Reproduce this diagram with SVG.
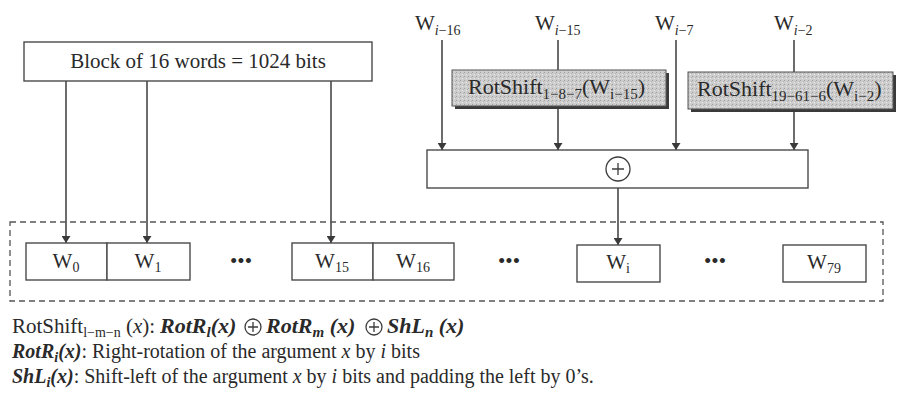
<svg xmlns="http://www.w3.org/2000/svg" width="900" height="408" viewBox="0 0 900 408">
<style>
.t{font-family:"Liberation Serif","Times New Roman",serif;fill:#2a2a2a;font-size:21px}
.lg{font-size:20px}
.sub{font-size:14px}
.bt{font-size:22px}
.bsub{font-size:15px}
.bi{font-weight:bold;font-style:italic}
.it{font-style:italic}
.box{fill:#ffffff;stroke:#4a4a4a;stroke-width:1.4}
.ln{stroke:#3c3c3c;stroke-width:1.5;fill:none}
.arr{stroke:#3c3c3c;stroke-width:1.5;fill:none;marker-end:url(#ah)}
.shade{fill:url(#stip);stroke:#555;stroke-width:1}
.shadow{fill:#3a3a3a}
.dash{fill:none;stroke:#555;stroke-width:1.3;stroke-dasharray:6 4}
.xor{fill:none;stroke:#3c3c3c;stroke-width:1.3}
</style>
<defs>
<marker id="ah" viewBox="0 0 10 10" refX="10" refY="5" markerWidth="7" markerHeight="9" markerUnits="userSpaceOnUse" orient="auto" preserveAspectRatio="none">
<path d="M0,0 L10,5 L0,10 z" fill="#3a3a3a"/>
</marker>
<pattern id="stip" width="4" height="4" patternUnits="userSpaceOnUse">
<rect width="4" height="4" fill="#cdcdcd"/>
<rect x="0" y="0" width="1" height="1" fill="#a0a0a0"/>
<rect x="2" y="2" width="1" height="1" fill="#ececec"/>
<rect x="3" y="1" width="1" height="1" fill="#b4b4b4"/>
</pattern>
</defs>
<rect width="900" height="408" fill="#ffffff"/>

<g id="connectors">
<path class="arr" d="M66,81 V243"/>
<path class="arr" d="M147,81 V243"/>
<path class="arr" d="M331,81 V243"/>
<path class="arr" d="M442,40 V150"/>
<path class="ln" d="M558,40 V70"/>
<path class="arr" d="M558,108 V150"/>
<path class="arr" d="M676,40 V150"/>
<path class="ln" d="M794,40 V72"/>
<path class="arr" d="M794,111 V150"/>
<path class="arr" d="M618,188 V245"/>
</g>

<g id="block">
<rect class="box" x="24" y="42" width="348" height="39"/>
<text class="t" x="198" y="68" text-anchor="middle">Block of 16 words = 1024 bits</text>
</g>

<g id="w-i-16"><text class="t" x="415" y="30">W<tspan class="sub it" dy="5">i</tspan><tspan class="sub">−16</tspan></text></g>
<g id="w-i-15"><text class="t" x="535" y="30">W<tspan class="sub it" dy="5">i</tspan><tspan class="sub">−15</tspan></text></g>
<g id="w-i-7"><text class="t" x="655" y="30">W<tspan class="sub it" dy="5">i</tspan><tspan class="sub">−7</tspan></text></g>
<g id="w-i-2"><text class="t" x="774" y="30">W<tspan class="sub it" dy="5">i</tspan><tspan class="sub">−2</tspan></text></g>

<g id="rotshift-1">
<rect class="shadow" x="455" y="73" width="214" height="36"/>
<rect class="shade" x="452" y="70" width="214" height="36"/>
<text class="t bt" x="468" y="94">RotShift<tspan class="bsub" dy="5">1−8−7</tspan><tspan dy="-5">(W</tspan><tspan class="bsub" dy="5">i−15</tspan><tspan dy="-5">)</tspan></text>
</g>
<g id="rotshift-2">
<rect class="shadow" x="691" y="75" width="205" height="37"/>
<rect class="shade" x="688" y="72" width="205" height="37"/>
<text class="t bt" x="697" y="96">RotShift<tspan class="bsub" dy="5">19−61−6</tspan><tspan dy="-5">(W</tspan><tspan class="bsub" dy="5">i−2</tspan><tspan dy="-5">)</tspan></text>
</g>

<g id="xor">
<rect class="box" x="427" y="150" width="381" height="38"/>
<circle class="xor" cx="618" cy="169" r="12"/>
<path class="xor" d="M612,169 H624 M618,163 V175"/>
</g>

<g id="words">
<rect class="dash" x="10" y="222" width="873" height="79"/>
<g id="w0"><rect class="box" x="26" y="243" width="81" height="37"/><text class="t" x="66" y="268" text-anchor="middle">W<tspan class="sub" dy="4">0</tspan></text></g>
<g id="w1"><rect class="box" x="107" y="243" width="83" height="37"/><text class="t" x="148" y="268" text-anchor="middle">W<tspan class="sub" dy="4">1</tspan></text></g>
<g id="dots1"><text class="t" x="241" y="268" text-anchor="middle">•••</text></g>
<g id="w15"><rect class="box" x="292" y="243" width="81" height="37"/><text class="t" x="332" y="268" text-anchor="middle">W<tspan class="sub" dy="4">15</tspan></text></g>
<g id="w16"><rect class="box" x="373" y="243" width="81" height="37"/><text class="t" x="413" y="268" text-anchor="middle">W<tspan class="sub" dy="4">16</tspan></text></g>
<g id="dots2"><text class="t" x="509" y="268" text-anchor="middle">•••</text></g>
<g id="wi"><rect class="box" x="577" y="245" width="83" height="37"/><text class="t" x="618" y="269" text-anchor="middle">W<tspan class="sub" dy="4">i</tspan></text></g>
<g id="dots3"><text class="t" x="715" y="268" text-anchor="middle">•••</text></g>
<g id="w79"><rect class="box" x="783" y="245" width="83" height="37"/><text class="t" x="824" y="269" text-anchor="middle">W<tspan class="sub" dy="4">79</tspan></text></g>
</g>

<g id="legend">
<text class="t" x="12" y="333">RotShift<tspan class="sub" dy="4">l−m−n</tspan><tspan dy="-4"> (</tspan><tspan class="it">x</tspan>):</text>
<text class="t bt bi" x="160" y="333">RotR<tspan class="bsub" dy="4">l</tspan><tspan dy="-4">(x)</tspan></text>
<circle class="xor" cx="253" cy="327" r="8"/>
<path class="xor" d="M248,327 H258 M253,322 V332"/>
<text class="t bt bi" x="266" y="333">RotR<tspan class="bsub" dy="4">m</tspan><tspan dy="-4"> (x)</tspan></text>
<circle class="xor" cx="374" cy="327" r="8"/>
<path class="xor" d="M369,327 H379 M374,322 V332"/>
<text class="t bt bi" x="387" y="333">ShL<tspan class="bsub" dy="4">n</tspan><tspan dy="-4"> (x)</tspan></text>
<text class="t lg" x="12" y="358"><tspan class="bi">RotR</tspan><tspan class="sub bi" dy="4">i</tspan><tspan class="bi" dy="-4">(x)</tspan>: Right-rotation of the argument <tspan class="it">x</tspan> by <tspan class="it">i</tspan> bits</text>
<text class="t lg" x="12" y="383"><tspan class="bi">ShL</tspan><tspan class="sub bi" dy="4">i</tspan><tspan class="bi" dy="-4">(x)</tspan>: Shift-left of the argument <tspan class="it">x</tspan> by <tspan class="it">i</tspan> bits and padding the left by 0’s.</text>
</g>
</svg>
